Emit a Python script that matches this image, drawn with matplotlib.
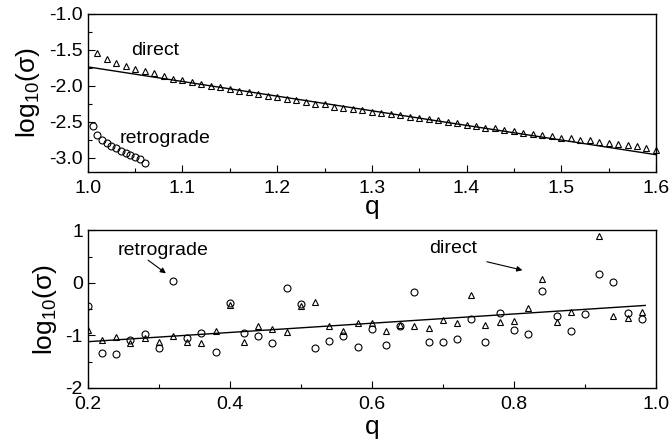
import numpy as np
import matplotlib
matplotlib.use('Agg')
import matplotlib.pyplot as plt
from matplotlib.ticker import MultipleLocator

plt.rcParams['font.family'] = ['Liberation Sans', 'DejaVu Sans']
plt.rcParams['mathtext.fontset'] = 'custom'
plt.rcParams['mathtext.rm'] = 'Liberation Sans'
plt.rcParams['mathtext.it'] = 'Liberation Sans'

# ---- top panel data ----
q_direct_top = np.round(np.arange(1.01, 1.6001, 0.01), 2)
sig_direct_top = [-1.54, -1.63, -1.69, -1.73, -1.77, -1.80, -1.82, -1.87, -1.90, -1.92,
                  -1.95, -1.97, -2.00, -2.02, -2.05, -2.07, -2.09, -2.12, -2.14, -2.16,
                  -2.18, -2.20, -2.22, -2.25, -2.26, -2.29, -2.31, -2.32, -2.34, -2.36,
                  -2.38, -2.39, -2.41, -2.43, -2.45, -2.46, -2.48, -2.50, -2.52, -2.54,
                  -2.56, -2.58, -2.59, -2.61, -2.63, -2.65, -2.67, -2.68, -2.70, -2.72,
                  -2.73, -2.75, -2.76, -2.78, -2.80, -2.81, -2.83, -2.84, -2.86, -2.89]
q_retro_top = np.round(np.arange(1.005, 1.0601, 0.005), 3)
sig_retro_top = [-2.56, -2.69, -2.75, -2.80, -2.84, -2.87, -2.90, -2.93, -2.96, -2.99, -3.02, -3.08]
fit_top_q = [1.0, 1.6]
fit_top_sig = [-1.737, -2.958]

# ---- bottom panel data ----
q_bot = np.round(np.arange(0.20, 0.9801, 0.02), 2)
sig_direct_bot = [-0.90, -1.08, -1.03, -1.14, -1.05, -1.13, -1.01, -1.13, -1.14, -0.92,
                  -0.42, -1.13, -0.83, -0.88, -0.93, -0.45, -0.37, -0.82, -0.92, -0.76,
                  -0.77, -0.92, -0.80, -0.82, -0.85, -0.70, -0.76, -0.23, -0.80, -0.74,
                  -0.72, -0.47, 0.08, -0.75, -0.56, np.nan, 0.89, -0.64, -0.66, -0.56]
sig_retro_bot = [-0.44, -1.33, -1.35, -1.09, -0.98, -1.24, 0.03, -1.04, -0.95, -1.31,
                 -0.38, -0.95, -1.02, -1.14, -0.09, -0.40, -1.24, -1.10, -1.01, -1.23,
                 -0.87, -1.18, -0.83, -0.18, -1.12, -1.12, -1.07, -0.68, -1.12, -0.57,
                 -0.89, -0.98, -0.16, -0.64, -0.91, -0.60, 0.17, 0.02, -0.58, -0.68]
fit_bot_q = [0.2, 0.985]
fit_bot_sig = [-1.12, -0.43]

fig = plt.figure(figsize=(6.7, 4.47), dpi=100)
ax1 = fig.add_axes([0.131, 0.615, 0.848, 0.354])
ax2 = fig.add_axes([0.131, 0.132, 0.848, 0.353])

mk = dict(linestyle='none', markerfacecolor='none', markeredgecolor='black',
          markersize=5, markeredgewidth=0.8)
arrow = dict(arrowstyle='-|>', color='black', lw=0.8, mutation_scale=8,
             shrinkA=0, shrinkB=0)

# top
ax1.plot(fit_top_q, fit_top_sig, color='black', linewidth=1.0)
ax1.plot(q_direct_top, sig_direct_top, marker='^', clip_on=False, **mk)
ax1.plot(q_retro_top, sig_retro_top, marker='o', **mk)
ax1.set_xlim(1.0, 1.6)
ax1.set_ylim(-3.2, -1.0)
ax1.xaxis.set_major_locator(MultipleLocator(0.1))
ax1.xaxis.set_minor_locator(MultipleLocator(0.05))
ax1.yaxis.set_major_locator(MultipleLocator(0.5))
ax1.yaxis.set_minor_locator(MultipleLocator(0.25))
ax1.xaxis.set_major_formatter(plt.FormatStrFormatter('%.1f'))
ax1.yaxis.set_major_formatter(plt.FormatStrFormatter('%.1f'))
ax1.text(1.071, -1.51, 'direct', ha='center', va='center', fontsize=14)
ax1.text(1.082, -2.73, 'retrograde', ha='center', va='center', fontsize=14)
ax1.set_xlabel('q', fontsize=19, labelpad=-1)
ax1.set_ylabel(r'log$_{10}$($\sigma$)', fontsize=19, labelpad=5)

# bottom
ax2.plot(fit_bot_q, fit_bot_sig, color='black', linewidth=1.0)
ax2.plot(q_bot, sig_direct_bot, marker='^', **mk)
ax2.plot(q_bot, sig_retro_bot, marker='o', **mk)
ax2.set_xlim(0.2, 1.0)
ax2.set_ylim(-2, 1)
ax2.xaxis.set_major_locator(MultipleLocator(0.2))
ax2.xaxis.set_minor_locator(MultipleLocator(0.1))
ax2.yaxis.set_major_locator(MultipleLocator(1))
ax2.yaxis.set_minor_locator(MultipleLocator(0.5))
ax2.xaxis.set_major_formatter(plt.FormatStrFormatter('%.1f'))
ax2.yaxis.set_major_formatter(plt.FormatStrFormatter('%d'))
ax2.text(0.306, 0.62, 'retrograde', ha='center', va='center', fontsize=14)
ax2.annotate('', xy=(0.31, 0.18), xytext=(0.285, 0.43), arrowprops=arrow)
ax2.text(0.715, 0.66, 'direct', ha='center', va='center', fontsize=14)
ax2.annotate('', xy=(0.812, 0.24), xytext=(0.762, 0.40), arrowprops=arrow)
ax2.set_xlabel('q', fontsize=19, labelpad=2)
ax2.set_ylabel(r'log$_{10}$($\sigma$)', fontsize=19, labelpad=5)

for ax in (ax1, ax2):
    ax.tick_params(which='both', direction='in', top=False, right=False, labelsize=14)
    ax.tick_params(axis='x', which='major', pad=5.5)
    ax.tick_params(which='major', length=5, width=0.8)
    ax.tick_params(which='minor', length=3, width=0.8)
    for s in ax.spines.values():
        s.set_linewidth(1.0)

fig.savefig('out.png', dpi=100)
